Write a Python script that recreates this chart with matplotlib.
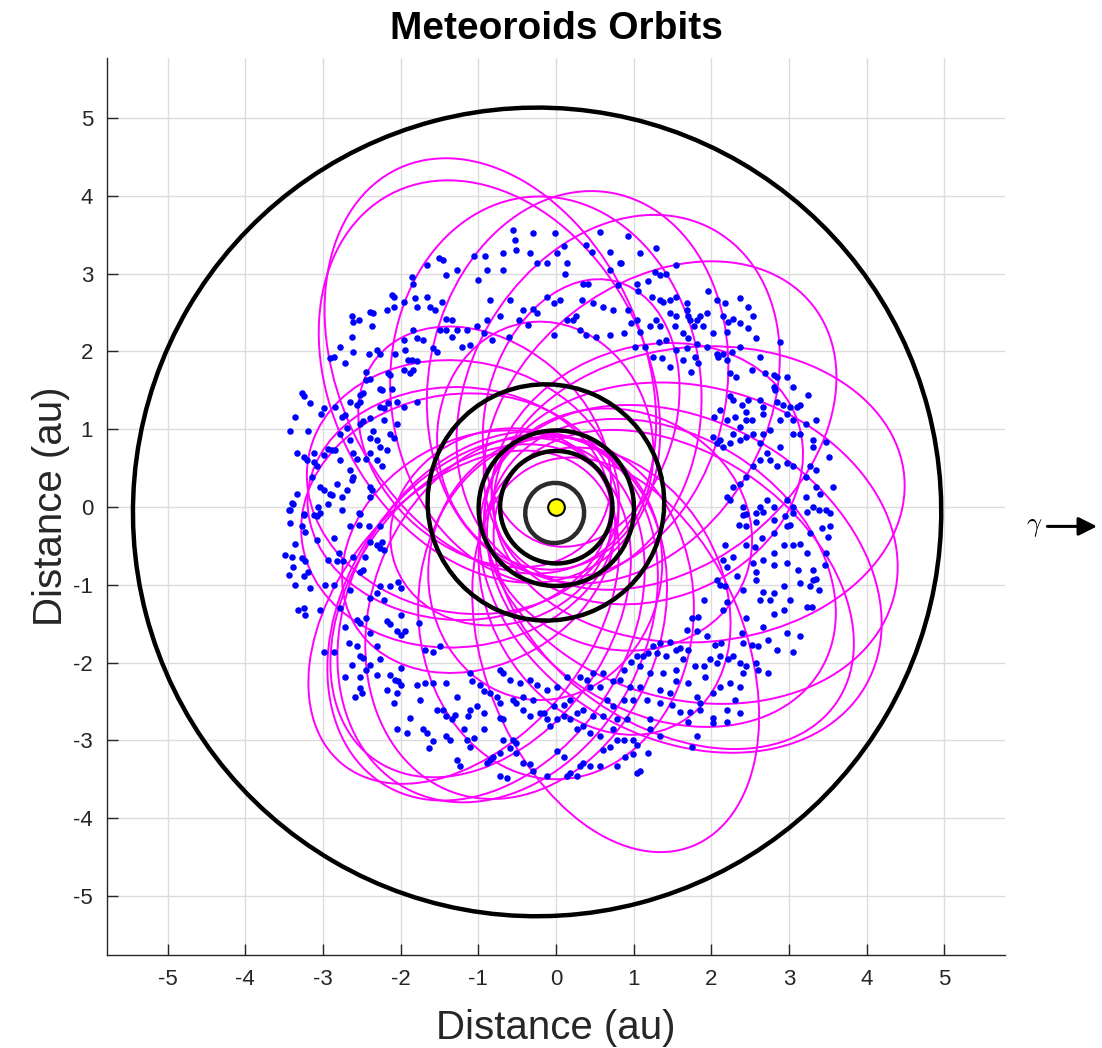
import matplotlib
matplotlib.use('Agg')
import matplotlib.pyplot as plt
from matplotlib.patches import Ellipse
import numpy as np

plt.rcParams['font.family'] = ['Liberation Sans', 'DejaVu Sans']
plt.rcParams['axes.unicode_minus'] = False
plt.rcParams['mathtext.fontset'] = 'cm'

# planets: Mercury, Venus, Earth, Mars, Jupiter
planet_a = [0.387, 0.723, 1.000, 1.524, 5.203]
planet_e = [0.2056, 0.0068, 0.0167, 0.0934, 0.0484]
planet_peri = [77.46, 131.53, 102.95, 336.04, 14.75]   # longitude of perihelion, deg

# meteoroid orbits: perihelion q, aphelion Q (au), aphelion direction (deg)
orb_q = [0.8, 0.9, 1.0, 0.9, 0.9, 0.8, 0.8, 0.9, 0.9, 0.7, 0.8, 0.6, 0.8,
         0.9, 0.7, 0.9, 0.6, 0.7, 0.8, 0.8, 0.6, 0.7, 0.7, 0.8, 0.5, 0.9,
         0.9, 0.8, 0.7, 0.9]
orb_Q = [4.8, 4.55, 4.0, 4.1, 4.1, 4.2, 4.5, 4.5, 4.6, 4.4, 4.0, 4.7, 4.2,
         4.1, 4.0, 3.9, 4.3, 3.2, 3.3, 3.25, 3.0, 3.0, 3.2, 3.3, 3.0, 3.5,
         2.6, 2.4, 2.2, 2.5]
orb_dir = [115, 118, 95, 80, 60, 38, 5, -15, -30, -35, -32, -68, -122,
           -118, -126, -110, -130, 178, -172, 168, 140, -150, -60, 20, 75, -90,
           -20, 100, -160, -100]

# asteroid belt points (au)
belt_nw = [(-1.45, 3.18), (-1.51, 3.20), (-1.66, 3.11), (-1.06, 3.22), (-0.91, 3.22), (-0.68, 3.26),
           (-0.51, 3.30), (-0.33, 3.26), (-0.25, 3.13), (-0.12, 3.13), (0.01, 3.26), (0.10, 3.35),
           (0.14, 3.13), (0.12, 3.00), (-0.53, 3.43), (-0.29, 3.52), (-0.55, 3.56), (-0.01, 3.52),
           (-0.68, 3.05), (-0.89, 3.05), (-1.00, 2.92), (-1.28, 3.05), (-1.41, 2.98), (-1.86, 2.96),
           (-1.84, 2.87), (-2.11, 2.72), (-2.09, 2.70), (-2.18, 2.53), (-2.39, 2.51), (-2.35, 2.49),
           (-2.63, 2.45), (-2.61, 2.38), (-2.54, 2.40), (-2.63, 2.19), (-2.37, 2.32), (-2.09, 2.57),
           (-1.96, 2.64), (-1.81, 2.68), (-1.79, 2.57), (-1.66, 2.70), (-1.62, 2.57), (-1.56, 2.53),
           (-1.47, 2.64), (-1.41, 2.42), (-1.34, 2.40), (-1.49, 2.27), (-1.41, 2.27), (-1.28, 2.27),
           (-1.15, 2.27), (-1.02, 2.32), (-0.89, 2.40), (-0.85, 2.66), (-0.72, 2.45), (-0.59, 2.66),
           (-0.48, 2.40), (-0.42, 2.53), (-0.29, 2.55), (-0.25, 2.49), (-0.12, 2.70), (-0.03, 2.62),
           (-0.03, 2.21), (0.05, 2.66), (0.14, 2.40), (-0.36, 2.34), (-0.61, 2.19), (-0.83, 2.15),
           (-0.93, 2.23), (-1.11, 2.08), (-1.21, 2.06), (-1.34, 2.19), (-1.58, 2.04), (-1.53, 1.99),
           (-1.71, 2.15), (-1.79, 2.17), (-1.84, 2.27), (-1.96, 2.15), (-1.94, 2.02), (-1.90, 1.89),
           (-1.86, 1.89), (-1.79, 1.87), (-1.84, 1.76), (-1.88, 1.72), (-1.96, 1.76), (-2.07, 1.97),
           (-2.26, 1.97), (-2.31, 2.02), (-2.41, 1.97), (-2.61, 1.99), (-2.71, 1.85), (-2.78, 2.06),
           (-2.86, 1.93), (-2.91, 1.91), (-2.44, 1.74), (-2.39, 1.65), (-2.44, 1.63), (-2.52, 1.44),
           (-2.48, 1.46), (-2.26, 1.52), (-2.24, 1.50), (-2.16, 1.72), (-2.14, 1.70), (-2.26, 1.29),
           (-2.22, 1.27), (-2.16, 1.33), (-2.05, 1.35), (-2.11, 1.52), (-1.96, 1.29), (-1.79, 1.35),
           (-2.52, 1.35), (-2.56, 1.31), (-2.65, 1.35), (-2.71, 1.18), (-2.76, 1.16), (-2.84, 1.29),
           (-2.99, 1.27), (-3.02, 1.20), (-3.27, 1.46), (-3.25, 1.42), (-3.17, 1.33), (-3.36, 1.16),
           (-3.42, 0.97), (-3.19, 0.97), (-3.12, 0.69), (-3.25, 0.64), (-3.21, 0.60), (-3.12, 0.58),
           (-3.34, 0.69), (-3.08, 0.52), (-3.14, 0.39), (-2.99, 0.67), (-2.93, 0.75), (-2.89, 0.73),
           (-2.84, 0.73), (-2.78, 0.94), (-2.69, 1.01), (-2.65, 0.86), (-2.52, 1.07), (-2.48, 1.10),
           (-2.39, 1.14), (-2.35, 0.97), (-2.31, 0.86), (-2.39, 0.88), (-2.26, 0.77), (-2.39, 0.69),
           (-2.44, 0.62), (-2.31, 0.60), (-2.24, 0.52), (-2.18, 0.73), (-2.14, 0.94), (-2.09, 0.88),
           (-2.61, 0.69), (-2.56, 0.62), (-2.65, 0.47), (-2.61, 0.39), (-2.63, 0.34), (-2.78, 0.60),
           (-2.69, 0.22), (-2.76, 0.13), (-2.82, 0.30), (-2.91, 0.17), (-2.89, 0.15), (-2.99, 0.22),
           (-3.04, 0.26), (-2.93, 0.04), (-3.06, 0.00), (-3.12, -0.11), (-3.25, -0.09), (-3.34, 0.17),
           (-3.38, 0.04), (-3.44, -0.04), (-2.39, 0.26), (-2.37, 0.22), (-2.39, 0.13), (-2.52, -0.09),
           (-2.22, 1.12), (-2.05, 1.07)]

belt_ne = [(0.56, 3.54), (0.93, 3.48), (0.46, 3.28), (1.08, 3.26), (1.29, 3.33), (0.39, 3.37),
           (0.69, 3.28), (0.82, 3.13), (0.69, 3.05), (0.84, 3.13), (0.35, 2.87), (0.41, 2.87),
           (0.80, 2.85), (1.04, 2.87), (1.19, 2.90), (1.27, 3.02), (1.42, 3.00), (1.34, 2.98),
           (1.55, 3.11), (1.06, 2.77), (1.23, 2.70), (1.34, 2.66), (1.47, 2.66), (1.55, 2.70),
           (1.38, 2.64), (1.68, 2.62), (1.68, 2.53), (1.96, 2.77), (2.07, 2.66), (2.17, 2.62),
           (2.37, 2.68), (2.47, 2.57), (2.54, 2.45), (2.28, 2.42), (2.15, 2.45), (2.22, 2.38),
           (2.37, 2.36), (1.94, 2.49), (1.81, 2.40), (1.72, 2.40), (1.70, 2.45), (1.55, 2.45),
           (1.47, 2.49), (1.29, 2.40), (1.21, 2.32), (1.04, 2.40), (0.97, 2.36), (0.93, 2.53),
           (0.74, 2.53), (0.61, 2.57), (0.48, 2.62), (0.33, 2.66), (0.26, 2.45), (0.22, 2.40),
           (0.31, 2.27), (0.39, 2.21), (0.52, 2.19), (0.69, 2.21), (0.87, 2.23), (1.08, 2.25),
           (1.34, 2.32), (1.53, 2.32), (1.64, 2.23), (1.77, 2.32), (2.02, 2.23), (2.20, 2.25),
           (2.47, 2.30), (2.58, 2.17), (2.88, 2.12), (2.37, 2.06), (2.26, 1.99), (2.15, 1.97),
           (2.07, 1.97), (1.94, 2.06), (1.81, 2.10), (1.68, 2.04), (1.55, 2.02), (1.42, 2.15),
           (1.32, 2.12), (1.14, 2.06), (1.02, 2.06), (1.25, 1.93), (1.36, 1.91), (1.47, 1.80),
           (1.64, 1.89), (1.74, 1.74), (1.79, 1.93), (1.83, 1.85), (2.09, 1.93), (2.20, 1.89),
           (2.24, 1.72), (2.32, 1.67), (2.52, 1.76), (2.62, 1.93), (2.69, 1.72), (2.80, 1.70),
           (2.84, 1.67), (2.97, 1.67), (3.05, 1.54), (2.80, 1.54), (2.82, 1.50), (2.62, 1.37),
           (2.67, 1.29), (2.47, 1.37), (2.39, 1.31), (2.28, 1.37), (2.24, 1.42), (2.11, 1.24),
           (2.04, 1.16), (2.20, 1.12), (2.30, 1.16), (2.45, 1.22), (2.52, 1.12), (2.67, 1.20),
           (2.84, 1.35), (2.92, 1.31), (3.01, 1.29), (3.10, 1.29), (3.14, 1.31), (3.25, 1.44),
           (3.35, 1.12), (3.22, 1.07), (3.05, 1.12), (2.97, 1.20), (2.88, 1.12), (2.75, 0.99),
           (2.67, 0.94), (2.54, 0.94), (2.45, 1.12), (2.37, 1.03), (2.28, 0.94), (2.11, 0.86),
           (2.02, 0.90), (2.07, 0.82), (2.15, 0.77), (2.24, 0.82), (2.37, 0.86), (2.45, 0.90),
           (2.62, 0.82), (2.71, 0.69), (2.88, 0.77), (3.05, 0.94), (3.14, 0.94), (3.31, 0.86),
           (3.31, 0.77), (3.48, 0.84), (3.52, 0.64), (3.35, 0.47), (3.27, 0.52), (3.22, 0.39),
           (3.05, 0.52), (2.97, 0.56), (2.84, 0.52), (2.75, 0.60), (2.62, 0.60), (2.54, 0.52),
           (2.45, 0.39), (2.37, 0.30), (2.28, 0.26), (2.20, 0.13), (2.24, 0.09), (2.41, 0.00),
           (2.45, -0.09), (2.62, 0.00), (2.71, 0.09), (2.80, 0.00), (2.97, 0.09), (3.05, 0.00),
           (3.22, 0.13), (3.31, 0.00), (3.48, -0.04), (3.40, 0.17), (3.57, 0.26), (3.35, 0.26),
           (1.85, 2.45), (1.89, 2.32), (1.70, 2.17)]

belt_sw = [(-3.40, 0.05), (-3.42, -0.04), (-3.25, -0.10), (-3.08, -0.12), (-3.04, -0.08), (-2.76, -0.04),
           (-2.54, -0.08), (-3.42, -0.21), (-3.27, -0.25), (-3.23, -0.32), (-3.36, -0.47), (-3.08, -0.42),
           (-2.86, -0.40), (-2.65, -0.25), (-2.54, -0.23), (-2.41, -0.25), (-2.26, -0.25), (-2.39, -0.45),
           (-2.31, -0.49), (-2.24, -0.45), (-3.49, -0.62), (-3.40, -0.64), (-3.27, -0.66), (-3.23, -0.70),
           (-2.93, -0.68), (-2.82, -0.70), (-2.80, -0.59), (-2.74, -0.70), (-2.61, -0.64), (-2.46, -0.64),
           (-2.26, -0.53), (-2.22, -0.55), (-3.44, -0.87), (-3.38, -0.77), (-3.25, -0.89), (-3.19, -0.83),
           (-3.36, -1.00), (-3.17, -1.04), (-2.97, -1.00), (-2.86, -1.00), (-2.65, -1.07), (-2.52, -0.83),
           (-2.48, -0.81), (-2.26, -1.02), (-2.22, -1.19), (-2.14, -1.02), (-2.03, -0.96), (-1.99, -1.04),
           (-2.39, -1.17), (-2.31, -1.11), (-3.32, -1.32), (-3.25, -1.30), (-3.23, -1.39), (-3.04, -1.32),
           (-2.78, -1.30), (-2.71, -1.54), (-2.56, -1.45), (-2.52, -1.49), (-2.44, -1.43), (-2.39, -1.62),
           (-2.31, -1.79), (-2.18, -1.47), (-2.14, -1.51), (-2.05, -1.60), (-1.99, -1.64), (-1.94, -1.60),
           (-1.99, -1.39), (-1.77, -1.49), (-1.69, -1.84), (-1.58, -1.86), (-1.49, -1.79), (-2.99, -1.86),
           (-2.86, -1.86), (-2.67, -1.75), (-2.56, -1.79), (-2.52, -1.92), (-2.48, -1.94), (-2.39, -2.03),
           (-2.44, -2.09), (-2.63, -2.03), (-2.71, -2.18), (-2.52, -2.18), (-2.52, -2.33), (-2.59, -2.44),
           (-2.50, -2.39), (-2.31, -2.16), (-2.26, -1.96), (-2.14, -2.16), (-2.07, -2.22), (-2.03, -2.24),
           (-1.99, -2.07), (-1.99, -2.29), (-2.05, -2.39), (-2.09, -2.52), (-2.18, -2.35), (-1.79, -2.29),
           (-1.69, -2.26), (-1.58, -2.26), (-1.41, -2.26), (-1.28, -2.44), (-1.11, -2.14), (-1.08, -2.24),
           (-0.98, -2.29), (-0.93, -2.37), (-0.85, -2.39), (-0.76, -2.44), (-0.72, -2.52), (-0.72, -2.71),
           (-0.68, -2.73), (-0.93, -2.65), (-1.02, -2.56), (-1.11, -2.61), (-1.13, -2.69), (-1.30, -2.67),
           (-1.45, -2.61), (-1.41, -2.69), (-1.34, -2.73), (-1.53, -2.61), (-1.75, -2.48), (-1.88, -2.71),
           (-1.92, -2.91), (-2.05, -2.86), (-1.71, -2.86), (-1.66, -2.91), (-1.64, -3.10), (-1.58, -3.01),
           (-1.41, -2.95), (-1.36, -2.99), (-1.28, -3.25), (-1.23, -3.33), (-1.19, -2.86), (-1.15, -2.99),
           (-1.11, -3.08), (-1.06, -2.97), (-0.93, -2.86), (-0.68, -2.99), (-0.55, -2.99), (-0.51, -3.03),
           (-0.51, -3.16), (-0.42, -3.29), (-0.33, -3.31), (-0.29, -3.40), (-0.12, -3.46), (0.01, -3.14),
           (0.10, -3.21), (0.14, -3.46), (0.18, -3.42), (0.27, -3.46), (0.31, -3.33), (0.35, -3.29),
           (0.44, -3.33), (0.57, -3.33), (0.61, -3.12), (0.70, -3.08), (0.57, -2.95), (0.44, -2.91),
           (0.35, -2.82), (0.27, -2.86), (0.18, -2.73), (0.10, -2.69), (0.01, -2.73), (-0.08, -2.82),
           (-0.12, -2.73), (-0.21, -2.65), (-0.33, -2.69), (-0.42, -2.61), (-0.51, -2.52), (-0.55, -2.48),
           (-0.42, -2.44), (-0.29, -2.48), (-0.16, -2.65), (-0.03, -2.56), (0.10, -2.54), (0.18, -2.48),
           (0.27, -2.65), (0.35, -2.61), (0.48, -2.69), (0.61, -2.69), (0.74, -2.56), (0.78, -2.73),
           (0.65, -2.48), (0.57, -2.31), (0.44, -2.31), (0.40, -2.22), (0.31, -2.18), (0.14, -2.18),
           (0.01, -2.31), (-0.12, -2.35), (-0.25, -2.29), (-0.33, -2.22), (-0.46, -2.26), (-0.59, -2.22),
           (-0.68, -2.14), (-0.72, -2.09), (0.48, -2.14), (0.61, -2.14), (0.74, -2.24), (0.74, -2.86),
           (0.78, -2.99), (0.78, -3.33), (-0.72, -3.46), (-0.63, -3.48), (-0.59, -3.10), (-0.72, -3.16),
           (-0.85, -3.25), (-0.89, -3.29), (-0.81, -3.21)]

belt_se = [(2.41, -0.10), (2.58, -0.08), (2.67, -0.06), (2.80, -0.17), (2.95, -0.12), (3.05, -0.08),
           (3.23, -0.06), (3.38, -0.04), (3.53, -0.08), (2.35, -0.23), (2.45, -0.25), (2.58, -0.19),
           (2.80, -0.34), (2.97, -0.25), (3.01, -0.23), (3.27, -0.34), (3.42, -0.27), (3.53, -0.25),
           (3.50, -0.38), (2.17, -0.49), (2.45, -0.49), (2.56, -0.51), (2.65, -0.40), (2.93, -0.49),
           (3.05, -0.49), (3.14, -0.47), (3.23, -0.59), (2.80, -0.59), (2.67, -0.68), (2.54, -0.72),
           (2.28, -0.64), (2.15, -0.68), (2.20, -0.77), (2.33, -0.89), (2.58, -0.83), (2.80, -0.74),
           (2.97, -0.72), (3.12, -0.81), (3.31, -0.81), (3.48, -0.59), (3.46, -0.74), (3.35, -0.92),
           (3.31, -0.94), (3.38, -1.07), (3.27, -1.02), (3.14, -0.98), (2.93, -1.02), (2.80, -1.11),
           (2.67, -1.09), (2.58, -0.94), (2.41, -1.07), (2.07, -0.94), (2.11, -1.00), (2.17, -1.02),
           (2.20, -1.22), (2.15, -1.32), (1.90, -1.19), (1.75, -1.43), (1.83, -1.41), (1.68, -1.58),
           (1.81, -1.60), (1.94, -1.66), (2.05, -1.77), (2.13, -1.75), (2.39, -1.62), (2.41, -1.75),
           (2.52, -1.77), (2.60, -1.79), (2.73, -1.71), (2.84, -1.84), (2.97, -1.62), (3.05, -1.86),
           (3.14, -1.66), (3.23, -1.28), (3.29, -1.28), (3.01, -1.19), (2.93, -1.32), (2.80, -1.37),
           (2.67, -1.54), (2.45, -1.43), (2.63, -1.19), (2.75, -1.19), (2.37, -2.01), (2.45, -2.05),
           (2.58, -2.01), (2.73, -2.14), (2.60, -2.09), (2.41, -2.14), (2.28, -1.92), (2.22, -1.96),
           (2.11, -1.92), (2.07, -2.01), (1.98, -1.96), (1.90, -2.05), (1.92, -2.18), (1.79, -2.05),
           (1.70, -1.84), (1.55, -1.84), (1.42, -1.92), (1.30, -1.88), (1.19, -1.88), (1.25, -1.79),
           (1.12, -1.92), (1.08, -2.05), (1.21, -2.14), (1.38, -2.14), (1.55, -2.09), (1.70, -2.26),
           (1.55, -2.24), (1.47, -2.39), (1.34, -2.35), (1.49, -2.54), (1.60, -2.63), (1.72, -2.63),
           (1.85, -2.61), (1.81, -2.44), (2.02, -2.39), (2.11, -2.31), (2.24, -2.26), (2.37, -2.31),
           (2.30, -2.48), (2.20, -2.61), (2.37, -2.65), (2.20, -2.76), (2.02, -2.71), (2.02, -2.78),
           (1.85, -2.52), (1.70, -2.76), (1.81, -2.95), (1.75, -3.08), (1.34, -2.95), (1.21, -2.73),
           (1.21, -2.86), (0.99, -2.99), (1.04, -3.06), (1.19, -3.16), (0.99, -3.18), (0.89, -3.21),
           (1.04, -3.42), (1.08, -3.40), (0.87, -2.99), (0.91, -2.73), (0.87, -2.48), (0.99, -2.48),
           (1.08, -2.31), (0.95, -2.31), (0.82, -2.22), (0.87, -2.09), (0.97, -1.99), (1.04, -1.92),
           (1.34, -1.75), (1.47, -1.73), (1.60, -1.81), (1.64, -1.96), (1.17, -2.48), (1.34, -2.52)]

fig = plt.figure(figsize=(11.02, 10.48), dpi=100)
ax = fig.add_axes([0.0971, 0.0887, 0.8149, 0.8559])

# meteoroid orbits (focus at the Sun)
for q, Q, d in zip(orb_q, orb_Q, orb_dir):
    a = (q + Q) / 2
    c = (Q - q) / 2
    t = np.radians(d)
    ax.add_patch(Ellipse((c * np.cos(t), c * np.sin(t)), 2 * a, 2 * np.sqrt(q * Q), angle=d,
                         fill=False, ec='#ff00ff', lw=1.4, zorder=2))

# asteroid belt
for pts in (belt_nw, belt_ne, belt_sw, belt_se):
    ax.plot([p[0] for p in pts], [p[1] for p in pts], 'o', color='#0000ff', ms=4.7, mew=0, zorder=3)

# planet orbits
for i, (a, e, w) in enumerate(zip(planet_a, planet_e, planet_peri)):
    t = np.radians(w)
    col = '#2b2b2b' if i == 0 else 'k'
    ax.add_patch(Ellipse((-a * e * np.cos(t), -a * e * np.sin(t)), 2 * a, 2 * a * np.sqrt(1 - e ** 2),
                         angle=w, fill=False, ec=col, lw=3.2, zorder=4))

# the Sun
ax.plot(0, 0, 'o', ms=12, mfc='#ffff00', mec='k', mew=1.5, zorder=5)

ax.set_xlim(-5.78, 5.78)
ax.set_ylim(-5.76, 5.77)
ticks = [-5, -4, -3, -2, -1, 0, 1, 2, 3, 4, 5]
ax.set_xticks(ticks)
ax.set_yticks(ticks)
ax.grid(True, color='#dcdcdc', lw=1)
ax.set_axisbelow(True)
for s in ('top', 'right'):
    ax.spines[s].set_visible(False)
for s in ('left', 'bottom'):
    ax.spines[s].set_color('#262626')
    ax.spines[s].set_linewidth(1)
ax.tick_params(direction='in', length=8, width=1, colors='#262626', labelsize=16, pad=10)

ax.set_title('Meteoroids Orbits', fontsize=28, fontweight='bold', pad=14)
ax.set_xlabel('Distance (au)', fontsize=29, color='#262626', labelpad=14)
ax.set_ylabel('Distance (au)', fontsize=29, color='#262626', labelpad=2)

# vernal equinox direction
ax.text(6.16, -0.26, r'$\gamma$', fontsize=19, ha='center', va='center', clip_on=False)
ax.annotate('', xy=(7.0, -0.25), xytext=(6.29, -0.25),
            arrowprops=dict(arrowstyle='-|>', color='k', lw=2.2, mutation_scale=28),
            annotation_clip=False)

fig.savefig('out.png', dpi=100)
